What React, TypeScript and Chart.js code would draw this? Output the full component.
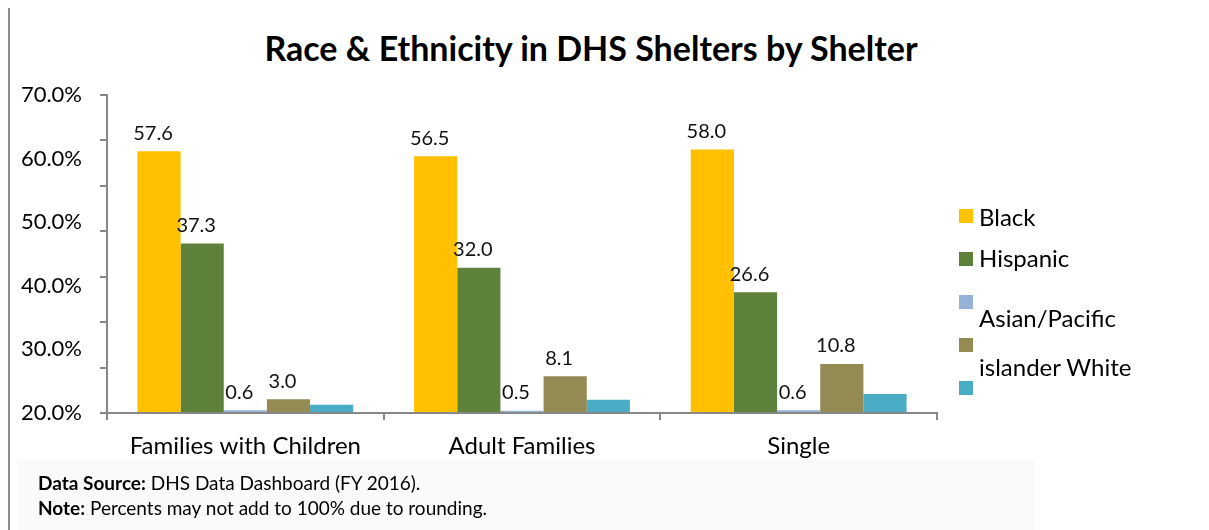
import React, { useEffect, useRef } from "react";
import { Chart, registerables } from "chart.js";

Chart.register(...registerables);

// ---- data ----
const categories = ["Families with Children", "Adult Families", "Single"];
const seriesNames = ["Black", "Hispanic", "Asian/Pacific islander", "White", "Other"];
const blackValues = [57.6, 56.5, 58.0];
const hispanicValues = [37.3, 32.0, 26.6];
const asianValues = [0.6, 0.5, 0.6];
const whiteValues = [3.0, 8.1, 10.8];
const otherValues = [1.8, 2.9, 4.2];
const labelledSeries = [true, true, true, true, false];
const seriesColors = ["#FFC000", "#5E813B", "#95B3D7", "#948A54", "#4BACC6"];
const legendLines = ["Black", "Hispanic", "Asian/Pacific", "islander White"];
const axisLabelMin = 20;
const axisLabelMax = 70;
const axisLabelStep = 10;
const titleText = "Race & Ethnicity in DHS Shelters by Shelter";
const sourceLabel = "Data Source:";
const sourceText = " DHS Data Dashboard (FY 2016).";
const noteLabel = "Note:";
const noteText = " Percents may not add to 100% due to rounding.";

const FONT = "Lato, 'Open Sans', sans-serif";
const AXIS_GRAY = "#888888";

const valueLabelPlugin = {
  id: "valueLabels",
  afterDatasetsDraw(chart: any) {
    const ctx = chart.ctx;
    ctx.save();
    ctx.font = `20px ${FONT}`;
    ctx.fillStyle = "#111";
    ctx.textAlign = "center";
    ctx.textBaseline = "middle";
    chart.data.datasets.forEach((ds: any, di: number) => {
      if (!labelledSeries[di]) return;
      const meta = chart.getDatasetMeta(di);
      meta.data.forEach((bar: any, i: number) => {
        const v = ds.data[i] as number;
        ctx.fillText(v.toFixed(1), bar.x - 6, bar.y - 18);
      });
    });
    ctx.restore();
  },
};

export default function App() {
  const canvasRef = useRef<HTMLCanvasElement | null>(null);

  useEffect(() => {
    if (!canvasRef.current) return;
    const allValues = [blackValues, hispanicValues, asianValues, whiteValues, otherValues];
    const chart = new Chart(canvasRef.current, {
      type: "bar",
      data: {
        labels: categories,
        datasets: allValues.map((vals, i) => ({
          label: seriesNames[i],
          data: vals,
          backgroundColor: seriesColors[i],
          borderWidth: 0,
          categoryPercentage: 0.78,
          barPercentage: 1.0,
          yAxisID: "y",
        })),
      },
      options: {
        responsive: false,
        animation: false,
        devicePixelRatio: 1,
        layout: { padding: { left: 9, right: 272, top: 95, bottom: 67 } },
        plugins: {
          legend: { display: false },
          title: { display: false },
          tooltip: { enabled: false },
        },
        scales: {
          x: {
            grid: {
              display: true,
              offset: true,
              drawOnChartArea: false,
              drawTicks: true,
              tickLength: 7,
              color: AXIS_GRAY,
              lineWidth: 2,
            },
            border: { display: true, color: AXIS_GRAY, width: 2 },
            ticks: {
              color: "#000",
              font: { family: FONT, size: 24 },
              padding: 12,
              maxRotation: 0,
              autoSkip: false,
            },
            afterFit: (s: any) => {
              s.height = 50;
            },
          },
          y: {
            type: "linear",
            position: "left",
            weight: 0,
            min: 0,
            max: 70,
            ticks: { display: false, stepSize: 10 },
            grid: {
              display: true,
              drawOnChartArea: false,
              drawTicks: true,
              tickLength: 7,
              color: AXIS_GRAY,
              lineWidth: 2,
            },
            border: { display: true, color: AXIS_GRAY, width: 2 },
            afterFit: (s: any) => {
              s.width = 8;
            },
          },
          yLabels: {
            type: "linear",
            position: "left",
            weight: 1,
            min: axisLabelMin,
            max: axisLabelMax,
            ticks: {
              stepSize: axisLabelStep,
              color: "#000",
              font: { family: FONT, size: 22 },
              padding: 9,
              callback: (v: any) => Number(v).toFixed(1) + "%",
            },
            grid: { display: false },
            border: { display: false },
            afterFit: (s: any) => {
              s.width = 90;
            },
          },
        },
      } as any,
      plugins: [valueLabelPlugin],
    });
    return () => chart.destroy();
  }, []);

  const squareTops = seriesColors.map((_, i) => 209 + i * 43);
  const legendTextTops = [205, 246, 306, 355];

  return (
    <div
      style={{
        position: "fixed",
        left: 0,
        top: 0,
        width: 1209,
        height: 530,
        background: "#ffffff",
        fontFamily: FONT,
        overflow: "hidden",
      }}
    >
      <div style={{ position: "absolute", left: 8, top: 8, width: 2, height: 522, background: "#8a8a8a" }} />
      <div style={{ position: "absolute", left: 18, top: 460, width: 1017, height: 70, background: "#fafafa" }} />
      <div
        style={{
          position: "absolute",
          left: 0,
          top: 30,
          width: 1182,
          textAlign: "center",
          fontSize: 34,
          lineHeight: "36px",
          fontWeight: 700,
          color: "#000",
          whiteSpace: "nowrap",
        }}
      >
        {titleText}
      </div>
      <canvas ref={canvasRef} width={1209} height={530} style={{ position: "absolute", left: 0, top: 0 }} />
      {seriesColors.map((c, i) => (
        <div
          key={"sq" + i}
          style={{ position: "absolute", left: 959, top: squareTops[i], width: 14, height: 14, background: c }}
        />
      ))}
      {legendLines.map((t, i) => (
        <div
          key={"lt" + i}
          style={{
            position: "absolute",
            left: 979,
            top: legendTextTops[i],
            fontSize: 24,
            lineHeight: "24px",
            color: "#000",
            whiteSpace: "nowrap",
          }}
        >
          {t}
        </div>
      ))}
      <div style={{ position: "absolute", left: 38, top: 470, fontSize: 19, lineHeight: "25px", color: "#000", whiteSpace: "nowrap" }}>
        <b>{sourceLabel}</b>
        {sourceText}
      </div>
      <div style={{ position: "absolute", left: 38, top: 495, fontSize: 19, lineHeight: "25px", color: "#000", whiteSpace: "nowrap" }}>
        <b>{noteLabel}</b>
        {noteText}
      </div>
    </div>
  );
}
